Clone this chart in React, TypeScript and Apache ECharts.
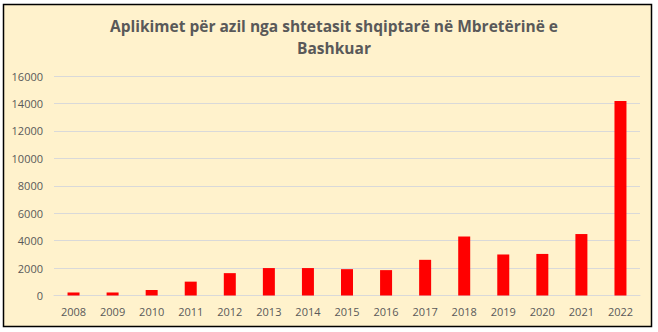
import React, { useEffect, useRef } from "react";
import * as echarts from "echarts";

const years = ["2008", "2009", "2010", "2011", "2012", "2013", "2014", "2015", "2016", "2017", "2018", "2019", "2020", "2021", "2022"];
const applications = [220, 220, 400, 1010, 1630, 2000, 2000, 1920, 1850, 2600, 4300, 2990, 3030, 4480, 14170];
const titleText = "Aplikimet për azil nga shtetasit shqiptarë në Mbretërinë e\nBashkuar";

export default function App() {
  const ref = useRef<HTMLDivElement>(null);
  useEffect(() => {
    const chart = echarts.init(ref.current!, null, { renderer: "svg" });
    chart.setOption({
      animation: false,
      backgroundColor: "#ffffff",
      graphic: [
        {
          type: "rect",
          z: -10,
          silent: true,
          shape: { x: 3.5, y: 4.5, width: 648, height: 322 },
          style: { fill: "#FFF2CC", stroke: "#000000", lineWidth: 1.5 },
        },
      ],
      title: {
        text: titleText,
        left: 329,
        top: 10,
        textAlign: "center",
        textStyle: {
          fontFamily: "Open Sans",
          fontWeight: "bold",
          fontSize: 15.5,
          color: "#595959",
          lineHeight: 22,
        },
      },
      grid: { left: 54, right: 18, top: 76, bottom: 36.5, containLabel: false },
      xAxis: {
        type: "category",
        data: years,
        axisLine: { show: true, lineStyle: { color: "#d9d9d9" } },
        axisTick: { show: false },
        axisLabel: { color: "#595959", fontSize: 11, fontFamily: "Open Sans", margin: 10 },
      },
      yAxis: {
        type: "value",
        min: 0,
        max: 16000,
        interval: 2000,
        axisLine: { show: false },
        axisTick: { show: false },
        splitLine: { lineStyle: { color: "#d9d9d9", width: 1 } },
        axisLabel: {
          color: "#595959",
          fontSize: 11,
          fontFamily: "Open Sans",
          margin: 11,
          formatter: (v: number) => String(v),
        },
      },
      series: [
        {
          type: "bar",
          data: applications,
          barWidth: 12,
          itemStyle: { color: "#FF0000" },
        },
      ],
    });
    return () => chart.dispose();
  }, []);
  return <div ref={ref} style={{ position: "fixed", left: 0, top: 0, width: 658, height: 332 }} />;
}
